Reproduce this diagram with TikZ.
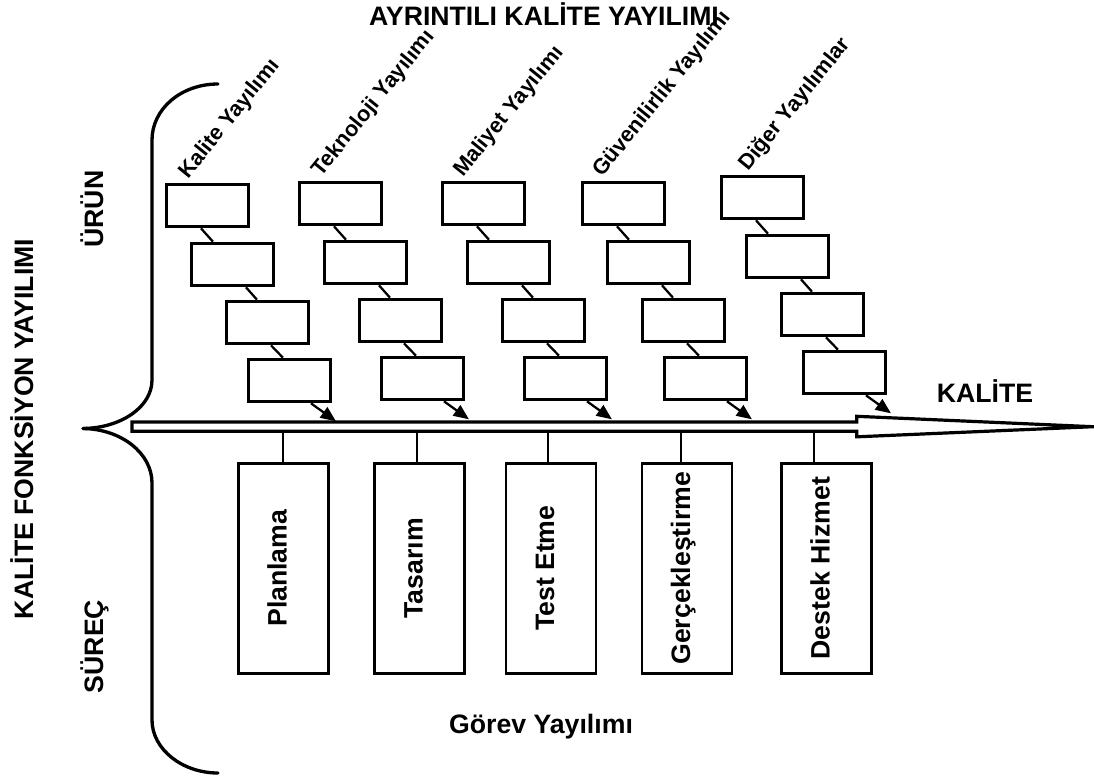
\documentclass[tikz,border=0pt]{standalone}
\usepackage{fontspec}
\setmainfont{Liberation Sans}
\usetikzlibrary{calc,arrows.meta}

\tikzset{
  topbox/.style={draw, line width=2.3pt, minimum width=61.5pt, minimum height=31.9pt, inner sep=0pt},
  taskbox/.style={draw, line width=2.2pt, minimum width=67.5pt, minimum height=157.5pt, inner sep=0pt},
  link/.style={line width=1.7pt},
  feed/.style={line width=1.7pt, -{Triangle[length=11.5pt,width=9.5pt]}},
  stem/.style={line width=1.8pt},
  brace/.style={line width=2.5pt, line cap=round},
  axisline/.style={line width=2.4pt, line join=miter, miter limit=30},
  big/.style={font=\fontsize{20}{23}\selectfont\bfseries, inner sep=0pt},
  slant/.style={font=\fontsize{16.3}{19}\selectfont\bfseries, inner sep=0pt, rotate=51, anchor=base west},
  vlabel/.style={big, rotate=90, anchor=base},
}

\begin{document}
\begin{tikzpicture}[x=0.75pt, y=-0.75pt]
\useasboundingbox (0,0) rectangle (1094,775);

% left braces
\draw[brace] (218,84) .. controls (181,84) and (152,109) .. (152,140)
  -- (152,380) .. controls (152,407) and (121,428) .. (83,428.5);
\draw[brace] (83,428.5) .. controls (121,429) and (152,453) .. (152,483)
  -- (152,720) .. controls (152,749) and (182,773) .. (218,773);

% main quality axis (hollow arrow)
\coordinate (axtail) at (132,426.7);
\coordinate (axtip) at (1093,426.7);
\coordinate (axtop) at (0,422);
\coordinate (axbot) at (0,431.3);
\draw[axisline] (axtail |- axtop) -- (856.7,422) -- (856.7,416.3) -- (axtip)
  -- (856.7,436.8) -- (856.7,431.3) -- (axtail |- axbot) -- cycle;

% product chains
\foreach \c/\x/\y/\dx/\lab in {1/166/183/23/Kalite Yayılımı,
                                2/299/181/23/Teknoloji Yayılımı,
                                3/442/181/22/Maliyet Yayılımı,
                                4/582/181/21/Güvenilirlik Yayılımı,
                                5/721/175/28/Diğer Yayılımlar}{
  \node[topbox] (b\c a) at (\x+41.5,\y+22.5) {};
  \node[topbox] (b\c b) at (\x+66.5,\y+81.5) {};
  \node[topbox] (b\c c) at (\x+101.5,\y+139.5) {};
  \node[topbox] (b\c d) at (\x+123.5,\y+197.5) {};
  \node[slant] (lab\c) at ($(b\c a.north west)+(\dx,-3)$) {\lab};
  \draw[link] ($(b\c a.south west)+(36,0)$) -- ($(b\c b.north west)+(23,0)$);
  \draw[link] ($(b\c b.south west)+(56,0)$) -- ($(b\c c.north west)+(32,0)$);
  \draw[link] ($(b\c c.south west)+(46,0)$) -- ($(b\c d.north west)+(36,0)$);
  \coordinate (hit\c) at ($(b\c d.south west)+(89,18)$);
  \draw[feed] ($(b\c d.south west)+(64,0)$) -- (hit\c);
}

% process tasks
\coordinate (axunder) at (0,432);
\foreach \n/\cx/\sx/\txt in {1/283.7/283/Planlama,
                             2/419.7/417/Tasarım,
                             3/551/548/Test Etme,
                             4/687/681/Gerçekleştirme,
                             5/826.7/814/Destek Hizmet}{
  \node[taskbox] (t\n) at (\cx,568.2) {};
  \node[vlabel] (tl\n) at ($(t\n.center)+(3,0)$) {\txt};
  \coordinate (s\n) at (\sx,463);
  \draw[stem] (s\n) -- (s\n |- axunder);
}

% titles and side labels
\node[big, anchor=base] (title) at (544,25) {AYRINTILI KALİTE YAYILIMI};
\node[big, anchor=base] (kalite) at (985,402) {KALİTE};
\node[big, anchor=base] (gorev) at (541,733) {Görev Yayılımı};
\node[vlabel] (kfy) at (33,429) {KALİTE FONKSİYON YAYILIMI};
\node[vlabel] (urun) at (103,209) {ÜRÜN};
\node[vlabel] (surec) at (103,646.5) {SÜREÇ};
\end{tikzpicture}
\end{document}
